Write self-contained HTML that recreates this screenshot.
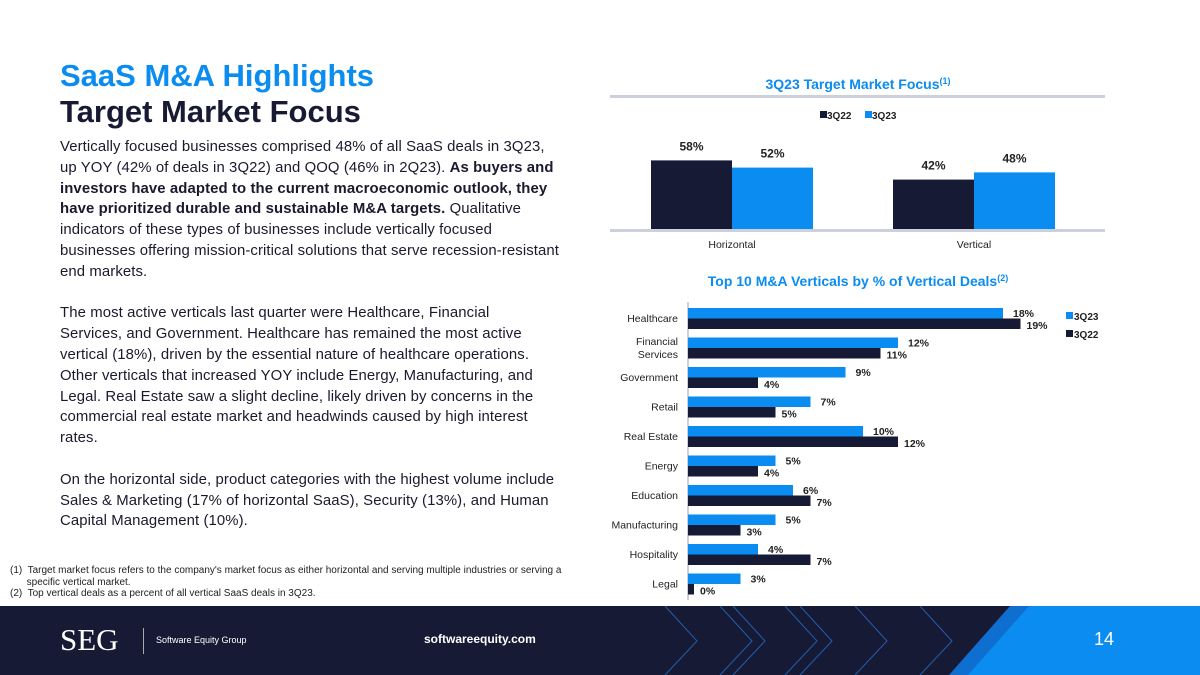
<!DOCTYPE html>
<html><head><meta charset="utf-8"><style>
body{margin:0;width:1200px;height:675px;overflow:hidden;background:#fff;font-family:"Liberation Sans",sans-serif;position:relative}
.abs{position:absolute}
p{margin:0}
.body{left:60px;top:137px;width:520px;font-size:14.9px;letter-spacing:0.1px;line-height:20.8px;color:#1a1a2e;white-space:nowrap}
</style></head><body>
<div class="abs" style="left:60px;top:58px;font-size:31px;font-weight:bold;color:#0a8cf0">SaaS M&amp;A Highlights</div>
<div class="abs" style="left:60px;top:94px;font-size:31px;font-weight:bold;color:#181a33">Target Market Focus</div>
<div class="abs body">
<p>Vertically focused businesses comprised 48% of all SaaS deals in 3Q23,<br>up YOY (42% of deals in 3Q22) and QOQ (46% in 2Q23). <b>As buyers and<br>investors have adapted to the current macroeconomic outlook, they<br>have prioritized durable and sustainable M&amp;A targets.</b> Qualitative<br>indicators of these types of businesses include vertically focused<br>businesses offering mission-critical solutions that serve recession-resistant<br>end markets.</p><br>
<p>The most active verticals last quarter were Healthcare, Financial<br>Services, and Government. Healthcare has remained the most active<br>vertical (18%), driven by the essential nature of healthcare operations.<br>Other verticals that increased YOY include Energy, Manufacturing, and<br>Legal. Real Estate saw a slight decline, likely driven by concerns in the<br>commercial real estate market and headwinds caused by high interest<br>rates.</p><br>
<p>On the horizontal side, product categories with the highest volume include<br>Sales &amp; Marketing (17% of horizontal SaaS), Security (13%), and Human<br>Capital Management (10%).</p>
</div>
<div class="abs" style="left:10px;top:565px;font-size:10px;line-height:11.5px;color:#222;width:590px;white-space:nowrap">
<div>(1)&nbsp; Target market focus refers to the company's market focus as either horizontal and serving multiple industries or serving a<br>&nbsp;&nbsp;&nbsp;&nbsp;&nbsp;&nbsp;specific vertical market.</div>
<div>(2)&nbsp; Top vertical deals as a percent of all vertical SaaS deals in 3Q23.</div></div>

<svg class="abs" style="left:0;top:0" width="1200" height="606">
<text x="858" y="89" text-anchor="middle" font-size="14" font-weight="bold" fill="#0a8cf0">3Q23 Target Market Focus<tspan font-size="9" dy="-5">(1)</tspan></text>
<rect x="610" y="95" width="495" height="3" fill="#ccd0dd"/>
<g id="top"></g>
<text x="858" y="286" text-anchor="middle" font-size="14" font-weight="bold" fill="#0a8cf0">Top 10 M&amp;A Verticals by % of Vertical Deals<tspan font-size="9" dy="-5">(2)</tspan></text>
<g id="bot"></g>
</svg>

<div class="abs" style="left:0;top:606px;width:1200px;height:69px;background:#161a35;overflow:hidden">
<svg width="1200" height="69" style="position:absolute;left:0;top:0">
<g fill="none" stroke="#1f5fb0" stroke-width="1">
<path d="M665 0 L697 35 L665 69"/><path d="M720 0 L752 35 L720 69"/><path d="M733 0 L765 35 L733 69"/><path d="M785 0 L817 35 L785 69"/><path d="M800 0 L832 35 L800 69"/><path d="M855 0 L887 35 L855 69"/><path d="M920 0 L952 35 L920 69"/></g>
<polygon points="1010,0 1200,0 1200,69 949,69" fill="#0f6fd0"/>
<polygon points="1029,0 1200,0 1200,69 968,69" fill="#0a8cf0"/>
</svg>
<div class="abs" style="left:60px;top:16px;font-family:'Liberation Serif',serif;font-size:31px;color:#fff">SEG</div>
<div class="abs" style="left:143px;top:22px;width:1px;height:26px;background:#aaa"></div>
<div class="abs" style="left:156px;top:29px;font-size:9px;color:#fff">Software Equity Group</div>
<div class="abs" style="left:424px;top:26px;font-size:12px;font-weight:bold;color:#fff">softwareequity.com</div>
<div class="abs" style="left:1094px;top:23px;font-size:18px;color:#fff">14</div>
</div>

<script>
const topCats=["Horizontal","Vertical"];
const top22=[58,42];
const top23=[52,48];
const botCats=["Healthcare","Financial|Services","Government","Retail","Real Estate","Energy","Education","Manufacturing","Hospitality","Legal"];
const bot23=[18,12,9,7,10,5,6,5,4,3];
const bot22=[19,11,4,5,12,4,7,3,7,0];
const NS="http://www.w3.org/2000/svg";
function mk(p,t,a,txt){const e=document.createElementNS(NS,t);for(const k in a)e.setAttribute(k,a[k]);if(txt!==undefined)e.textContent=txt;p.appendChild(e);return e;}
const DARK="#161a35",BLUE="#0a8cf0";
const tg=document.getElementById('top');
const base=230,yk=1.2;
const yT=v=>base-v*yk;
let l=mk(tg,'rect',{x:820,y:111,width:7,height:7,fill:DARK});
mk(tg,'text',{x:827,y:119,'font-size':10,'font-weight':'bold',fill:'#222'},'3Q22');
l=mk(tg,'rect',{x:865,y:111,width:7,height:7,fill:BLUE});
mk(tg,'text',{x:872,y:119,'font-size':10,'font-weight':'bold',fill:'#222'},'3Q23');
const groupX=[651,893];
topCats.forEach((c,i)=>{
 const x0=groupX[i],w=81;
 [[top22[i],DARK,x0],[top23[i],BLUE,x0+w]].forEach(([v,col,x],j)=>{
  const r=mk(tg,'rect',{x:x,y:yT(v),width:w,height:v*yk,fill:col});
  
  
  mk(tg,'text',{x:x+w/2,y:yT(v)-10,'text-anchor':'middle','font-size':12,'font-weight':'bold',fill:'#222','font-family':'Liberation Sans Narrow, Liberation Sans, sans-serif'},v+'%');
 });
 const t=mk(tg,'text',{x:x0+w,y:248,'text-anchor':'middle','font-size':10.5,fill:'#222'},c);
 
 
});
mk(tg,'rect',{x:610,y:229,width:495,height:3,fill:'#ccd0dd'});
const bg=document.getElementById('bot');
const ax=688,xk=17.5,rowTop=308,rowH=29.5,bh=10.5;
const xB=v=>ax+v*xk;
mk(bg,'rect',{x:687,y:302,width:2,height:298,fill:'#ccd0dd'});
botCats.forEach((c,i)=>{
 const y0=rowTop+i*rowH;
 const r1=mk(bg,'rect',{x:ax,y:y0,width:bot23[i]*xk,height:bh,fill:BLUE});
 
 
 const r2=mk(bg,'rect',{x:ax,y:y0+bh,width:Math.max(bot22[i]*xk,6),height:bh,fill:DARK});
 
 
 mk(bg,'text',{x:xB(bot23[i])+10,y:y0+9,'font-size':10.5,'font-weight':'bold',fill:'#222'},bot23[i]+'%');
 mk(bg,'text',{x:Math.max(xB(bot22[i]),ax+6)+6,y:y0+bh+10.5,'font-size':10.5,'font-weight':'bold',fill:'#222'},bot22[i]+'%');
 const parts=c.split('|');
 parts.forEach((p,k)=>{
  const t=mk(bg,'text',{x:678,y:y0+14+(k-(parts.length-1)/2)*13,'text-anchor':'end','font-size':10.5,fill:'#222'},p);
  
  
 });
});
l=mk(bg,'rect',{x:1066,y:312,width:7,height:7,fill:BLUE});
mk(bg,'text',{x:1074,y:320,'font-size':10,'font-weight':'bold',fill:'#222'},'3Q23');
l=mk(bg,'rect',{x:1066,y:330,width:7,height:7,fill:DARK});
mk(bg,'text',{x:1074,y:338,'font-size':10,'font-weight':'bold',fill:'#222'},'3Q22');
</script>
</body></html>
